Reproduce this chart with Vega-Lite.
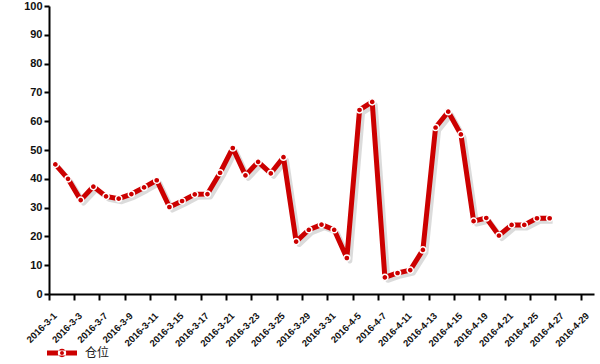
{
  "$schema": "https://vega.github.io/schema/vega-lite/v6.json",
  "width": 545,
  "height": 288,
  "autosize": "none",
  "padding": {"left": 49, "top": 6, "right": 6, "bottom": 70},
  "background": "white",
  "config": {"view": {"stroke": null}, "font": "Liberation Sans"},
  "data": {"values": [
    {"date": "2016-3-1", "series": "仓位", "value": 45},
    {"date": "2016-3-2", "series": "仓位", "value": 40},
    {"date": "2016-3-3", "series": "仓位", "value": 32.6},
    {"date": "2016-3-4", "series": "仓位", "value": 37.3},
    {"date": "2016-3-7", "series": "仓位", "value": 33.9},
    {"date": "2016-3-8", "series": "仓位", "value": 33.1},
    {"date": "2016-3-9", "series": "仓位", "value": 34.7},
    {"date": "2016-3-10", "series": "仓位", "value": 37},
    {"date": "2016-3-11", "series": "仓位", "value": 39.5},
    {"date": "2016-3-14", "series": "仓位", "value": 30.2},
    {"date": "2016-3-15", "series": "仓位", "value": 32.3},
    {"date": "2016-3-16", "series": "仓位", "value": 34.6},
    {"date": "2016-3-17", "series": "仓位", "value": 34.7},
    {"date": "2016-3-18", "series": "仓位", "value": 42.1},
    {"date": "2016-3-21", "series": "仓位", "value": 50.7},
    {"date": "2016-3-22", "series": "仓位", "value": 41.2},
    {"date": "2016-3-23", "series": "仓位", "value": 45.9},
    {"date": "2016-3-24", "series": "仓位", "value": 41.9},
    {"date": "2016-3-25", "series": "仓位", "value": 47.5},
    {"date": "2016-3-28", "series": "仓位", "value": 18.2},
    {"date": "2016-3-29", "series": "仓位", "value": 22.3},
    {"date": "2016-3-30", "series": "仓位", "value": 24.1},
    {"date": "2016-3-31", "series": "仓位", "value": 22.3},
    {"date": "2016-4-1", "series": "仓位", "value": 12.5},
    {"date": "2016-4-5", "series": "仓位", "value": 63.9},
    {"date": "2016-4-6", "series": "仓位", "value": 66.7},
    {"date": "2016-4-7", "series": "仓位", "value": 5.8},
    {"date": "2016-4-8", "series": "仓位", "value": 7.3},
    {"date": "2016-4-11", "series": "仓位", "value": 8.3},
    {"date": "2016-4-12", "series": "仓位", "value": 15.3},
    {"date": "2016-4-13", "series": "仓位", "value": 57.8},
    {"date": "2016-4-14", "series": "仓位", "value": 63.3},
    {"date": "2016-4-15", "series": "仓位", "value": 55.4},
    {"date": "2016-4-18", "series": "仓位", "value": 25.3},
    {"date": "2016-4-19", "series": "仓位", "value": 26.4},
    {"date": "2016-4-20", "series": "仓位", "value": 20.3},
    {"date": "2016-4-21", "series": "仓位", "value": 24.0},
    {"date": "2016-4-22", "series": "仓位", "value": 24.0},
    {"date": "2016-4-25", "series": "仓位", "value": 26.3},
    {"date": "2016-4-26", "series": "仓位", "value": 26.3}
  ]},
  "encoding": {
    "x": {
      "field": "date", "type": "ordinal", "bandPosition": 0.5,
      "scale": {"type": "band", "paddingInner": 0, "paddingOuter": 0,
        "domain": ["2016-3-1","2016-3-2","2016-3-3","2016-3-4","2016-3-7","2016-3-8","2016-3-9","2016-3-10","2016-3-11","2016-3-14","2016-3-15","2016-3-16","2016-3-17","2016-3-18","2016-3-21","2016-3-22","2016-3-23","2016-3-24","2016-3-25","2016-3-28","2016-3-29","2016-3-30","2016-3-31","2016-4-1","2016-4-5","2016-4-6","2016-4-7","2016-4-8","2016-4-11","2016-4-12","2016-4-13","2016-4-14","2016-4-15","2016-4-18","2016-4-19","2016-4-20","2016-4-21","2016-4-22","2016-4-25","2016-4-26","2016-4-27","2016-4-28","2016-4-29"]},
      "axis": {
        "title": null, "bandPosition": 0,
        "values": ["2016-3-1","2016-3-3","2016-3-7","2016-3-9","2016-3-11","2016-3-15","2016-3-17","2016-3-21","2016-3-23","2016-3-25","2016-3-29","2016-3-31","2016-4-5","2016-4-7","2016-4-11","2016-4-13","2016-4-15","2016-4-19","2016-4-21","2016-4-25","2016-4-27","2016-4-29"],
        "labelAngle": -45, "labelAlign": "right", "labelBaseline": "middle",
        "labelFont": "Liberation Sans", "labelFontWeight": "bold", "labelFontSize": 9.5,
        "labelColor": "#111", "labelPadding": 14, "labelOffset": 0,
        "domainColor": "#000", "domainWidth": 2, "tickColor": "#000", "tickWidth": 2, "tickSize": 6,
        "grid": false
      }
    },
    "y": {
      "field": "value", "type": "quantitative",
      "scale": {"domain": [0, 100], "nice": false},
      "axis": {
        "title": null, "values": [0,10,20,30,40,50,60,70,80,90,100],
        "labelFont": "Liberation Sans", "labelFontWeight": "bold", "labelFontSize": 11,
        "labelColor": "#111", "labelPadding": 2,
        "domainColor": "#000", "domainWidth": 2, "tickColor": "#000", "tickWidth": 2, "tickSize": 5,
        "grid": false
      }
    }
  },
  "layer": [
    {
      "mark": {"type": "line", "color": "#888", "strokeWidth": 5, "opacity": 0.3, "xOffset": 3, "yOffset": 3, "strokeJoin": "round"},
      "encoding": {}
    },
    {
      "mark": {"type": "line", "strokeWidth": 5, "strokeJoin": "round"},
      "encoding": {
        "color": {"field": "series", "type": "nominal",
          "scale": {"range": ["#cc0000"]},
          "legend": {"title": null, "orient": "none", "legendX": -2, "legendY": 332,
            "symbolType": "M-1,-0.17L1,-0.17L1,0.17L-1,0.17Z M0.28,0A0.28,0.28 0 1,0 -0.28,0A0.28,0.28 0 1,0 0.28,0Z M0.13,0A0.13,0.13 0 1,1 -0.13,0A0.13,0.13 0 1,1 0.13,0Z",
            "symbolFillColor": "#cc0000", "symbolStrokeWidth": 0, "symbolStrokeColor": "transparent", "symbolSize": 900, "symbolOpacity": 1,
            "labelFont": "Noto Sans CJK SC", "labelFontSize": 12, "labelColor": "#222", "labelOffset": 8}}
      }
    },
    {
      "mark": {"type": "point", "filled": true, "fill": "#cc0000", "stroke": "white", "strokeWidth": 1.5, "size": 38, "opacity": 1},
      "encoding": {}
    }
  ]
}
